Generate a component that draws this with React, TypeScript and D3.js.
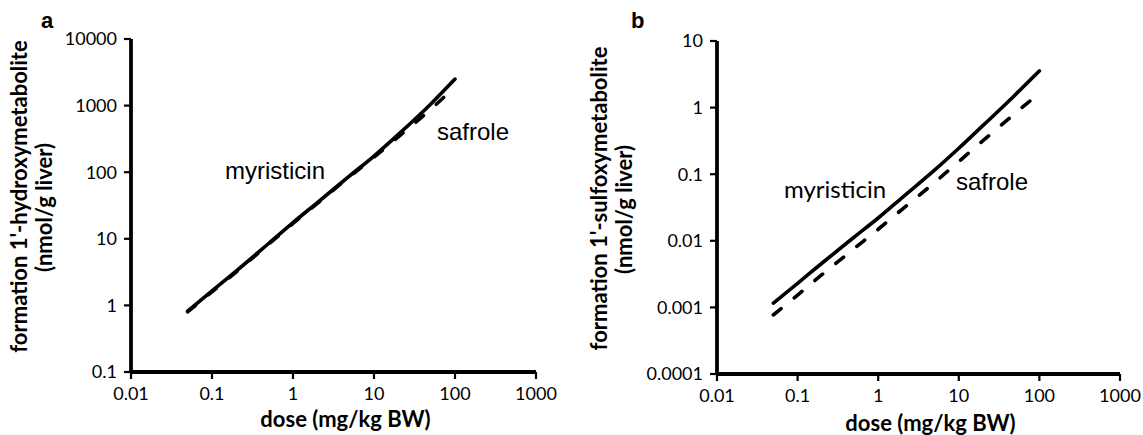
import React from "react";
import * as d3 from "d3";

// doses (mg/kg BW)
const doses = [0.05, 0.1, 0.2, 0.5, 1, 2, 5, 10, 20, 50, 100];

// panel a: 1'-hydroxymetabolite (nmol/g liver)
const hydroxyMyristicin = [0.82, 1.65, 3.3, 8.5, 17.5, 35, 88, 175, 370, 1050, 2500];
const hydroxySafrole = [0.8, 1.6, 3.2, 8.3, 17, 34, 86, 168, 340, 880, 1900];

// panel b: 1'-sulfoxymetabolite (nmol/g liver)
const sulfoxyMyristicin = [0.00116, 0.0023, 0.0046, 0.0113, 0.022, 0.045, 0.115, 0.245, 0.54, 1.55, 3.55];
const sulfoxySafrole = [0.00077, 0.00153, 0.0031, 0.0076, 0.0149, 0.03, 0.075, 0.155, 0.32, 0.82, 1.65];

const xTicks = [0.01, 0.1, 1, 10, 100, 1000];
const xTickLabels = ["0.01", "0.1", "1", "10", "100", "1000"];
const yTicksA = [0.1, 1, 10, 100, 1000, 10000];
const yTickLabelsA = ["0.1", "1", "10", "100", "1000", "10000"];
const yTicksB = [0.0001, 0.001, 0.01, 0.1, 1, 10];
const yTickLabelsB = ["0.0001", "0.001", "0.01", "0.1", "1", "10"];

const tickFont = "Lato, 'Open Sans', sans-serif";
const arial = "'Liberation Sans', Arial, sans-serif";

type Label = { text: string; x: number; y: number; font: string };

type PanelProps = {
  letter: string;
  letterX: number;
  x0: number;
  x1: number;
  yTop: number;
  yBottom: number;
  yTicks: number[];
  yTickLabels: string[];
  title: string;
  titleX: number;
  xTitleY: number;
  solid: number[];
  dashed: number[];
  labels: Label[];
};

const Panel = (p: PanelProps) => {
  const x = d3.scaleLog().domain([0.01, 1000]).range([p.x0, p.x1]);
  const y = d3
    .scaleLog()
    .domain([p.yTicks[0], p.yTicks[p.yTicks.length - 1]])
    .range([p.yBottom, p.yTop]);

  const line = (vals: number[]) =>
    d3
      .line<number>()
      .x((_, i) => x(doses[i]))
      .y((v) => y(v))
      .curve(d3.curveMonotoneX)(vals) || "";

  const midY = (p.yTop + p.yBottom) / 2;

  return (
    <g>
      <text x={p.letterX} y={28} fontFamily={arial} fontWeight="bold" fontSize={22}>
        {p.letter}
      </text>

      {/* y axis title, two lines */}
      <text
        transform={`translate(${p.titleX},${midY - 9}) rotate(-90)`}
        textAnchor="middle"
        fontFamily={tickFont}
        fontWeight="bold"
        fontSize={22}
      >
        {p.title}
      </text>
      <text
        transform={`translate(${p.titleX + 25},${midY + 2}) rotate(-90)`}
        textAnchor="middle"
        fontFamily={tickFont}
        fontWeight="bold"
        fontSize={22}
      >
        (nmol/g liver)
      </text>

      {/* axes */}
      <line x1={p.x0} x2={p.x0} y1={p.yTop} y2={p.yBottom} stroke="#000" strokeWidth={3.8} />
      <line x1={p.x0} x2={p.x1} y1={p.yBottom} y2={p.yBottom} stroke="#000" strokeWidth={3.8} />
      {p.yTicks.map((t, i) => (
        <g key={"y" + t}>
          <line x1={p.x0 - 7} x2={p.x0} y1={y(t)} y2={y(t)} stroke="#000" strokeWidth={2.2} />
          <text
            x={p.x0 - 14}
            y={y(t)}
            dy="0.35em"
            textAnchor="end"
            fontFamily={tickFont}
            fontSize={18}
          >
            {p.yTickLabels[i]}
          </text>
        </g>
      ))}
      {xTicks.map((t, i) => (
        <g key={"x" + t}>
          <line x1={x(t)} x2={x(t)} y1={p.yBottom} y2={p.yBottom + 7} stroke="#000" strokeWidth={2.2} />
          <text
            x={x(t)}
            y={p.yBottom + 28}
            textAnchor="middle"
            fontFamily={tickFont}
            fontSize={18}
          >
            {xTickLabels[i]}
          </text>
        </g>
      ))}
      <text
        x={(p.x0 + p.x1) / 2 + 12}
        y={p.xTitleY}
        textAnchor="middle"
        fontFamily={tickFont}
        fontWeight="bold"
        fontSize={22}
      >
        dose (mg/kg BW)
      </text>

      {/* series */}
      <path d={line(p.solid)} fill="none" stroke="#000" strokeWidth={3.6} strokeLinecap="round" />
      <path
        d={line(p.dashed)}
        fill="none"
        stroke="#000"
        strokeWidth={3.6}
        strokeLinecap="round"
        strokeDasharray="10 17"
      />

      {p.labels.map((l) => (
        <text key={l.text} x={l.x} y={l.y} fontFamily={l.font} fontSize={24}>
          {l.text}
        </text>
      ))}
    </g>
  );
};

const App = () => (
  <svg
    width={1143}
    height={435}
    style={{ position: "absolute", left: 0, top: 0, background: "#fff" }}
  >
    <Panel
      letter="a"
      letterX={41}
      x0={131}
      x1={536}
      yTop={39}
      yBottom={372}
      yTicks={yTicksA}
      yTickLabels={yTickLabelsA}
      title="formation 1'-hydroxymetabolite"
      titleX={27}
      xTitleY={427}
      solid={hydroxyMyristicin}
      dashed={hydroxySafrole}
      labels={[
        { text: "myristicin", x: 225, y: 179, font: arial },
        { text: "safrole", x: 437, y: 140, font: arial },
      ]}
    />
    <Panel
      letter="b"
      letterX={631}
      x0={717}
      x1={1120}
      yTop={41}
      yBottom={374}
      yTicks={yTicksB}
      yTickLabels={yTickLabelsB}
      title="formation 1'-sulfoxymetabolite"
      titleX={607}
      xTitleY={431}
      solid={sulfoxyMyristicin}
      dashed={sulfoxySafrole}
      labels={[
        { text: "myristicin", x: 784, y: 198, font: tickFont },
        { text: "safrole", x: 956, y: 190, font: arial },
      ]}
    />
  </svg>
);

export default App;
